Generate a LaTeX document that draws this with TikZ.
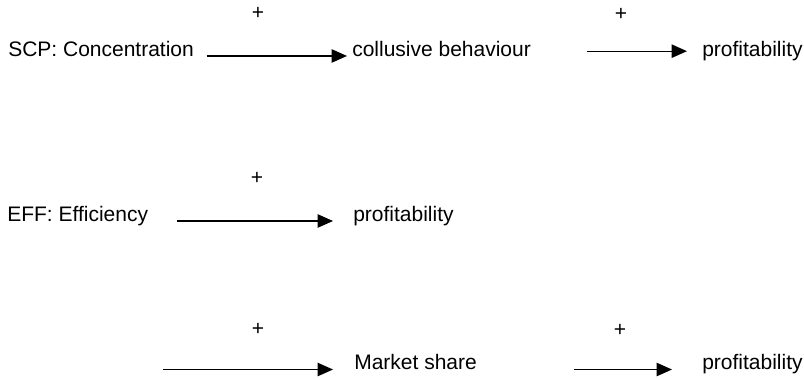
\documentclass[tikz,border=0pt]{standalone}
\usepackage{fontspec}
\setmainfont{Liberation Sans}
\usepackage{tikz}
\usetikzlibrary{arrows.meta}

\tikzset{
  txt/.style={inner sep=0pt, anchor=base west},
  sign/.style={inner sep=0pt},
  arr/.style={-{Triangle[length=11.5pt,width=10pt]}, line width=0.9pt}
}

\begin{document}
\begin{tikzpicture}[x=0.75pt, y=-0.75pt, font=\fontsize{15.75}{19}\selectfont]
      \useasboundingbox (0,0) rectangle (804,379);
      % Define nodes
      \node[txt] (scp)    at (8,56.5)   {SCP: Concentration};
      \node[txt] (coll)   at (352,56.5) {collusive behaviour};
      \node[txt] (prof1)  at (702,56.5) {profitability};
      \node[txt] (eff)    at (7,221)    {EFF: Efficiency};
      \node[txt] (prof2)  at (353,221)  {profitability};
      \coordinate (start) at (163,369.5);
      \node[txt] (share)  at (354,369.5) {Market share};
      \node[txt] (prof3)  at (702,369.5) {profitability};
      \node[sign] (p1) at (258,13)  {+};
      \node[sign] (p2) at (621,14)  {+};
      \node[sign] (p3) at (257,178) {+};
      \node[sign] (p4) at (258,329) {+};
      \node[sign] (p5) at (620,330) {+};
      % Connect nodes
      \draw[arr, shorten <=9.3pt, shorten >=3.75pt] ([yshift=0.4pt]scp.base east) -- ([yshift=0.4pt]coll.base west);
      \draw[arr, shorten <=42pt, shorten >=11.25pt] ([yshift=4pt]coll.base east) -- ([yshift=4pt]prof1.base west);
      \draw[arr, shorten <=21.75pt, shorten >=15pt] (eff.base east) -- (prof2.base west);
      \draw[arr, shorten >=15.75pt] (start) -- (share.base west);
      \draw[arr, shorten <=72.4pt, shorten >=22.5pt] (share.base east) -- (prof3.base west);
    \end{tikzpicture}
\end{document}
